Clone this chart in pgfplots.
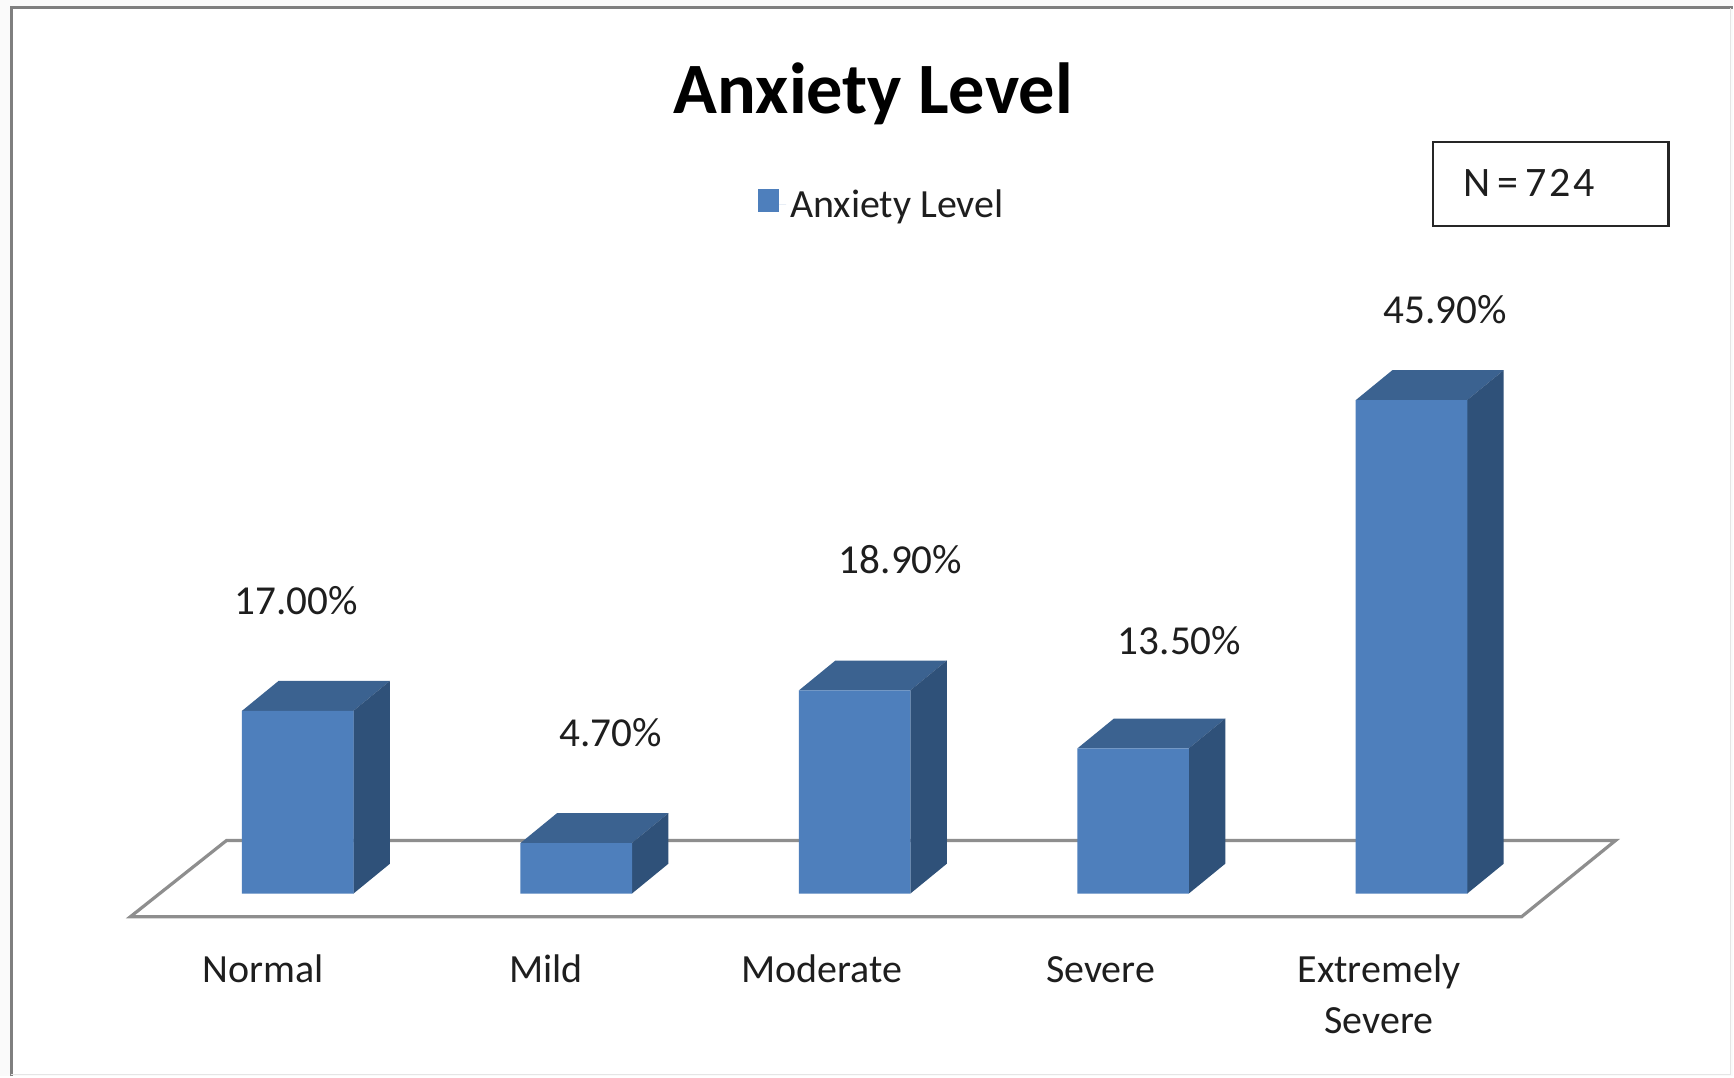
\documentclass[border=0pt]{standalone}
\usepackage{fontspec}
\setmainfont{Carlito}
\usepackage{pgfplots}
\pgfplotsset{compat=1.18}
\definecolor{barfront}{HTML}{4E7FBC}
\definecolor{bartop}{HTML}{3B6290}
\definecolor{barside}{HTML}{2F5179}
\definecolor{floorline}{HTML}{8E8E8E}
\definecolor{frameline}{HTML}{7F7F7F}
\definecolor{pagetone}{HTML}{FAFAFA}
\definecolor{labeltext}{HTML}{1E1E1E}

% Each category sits at 0,1,2,...; y is the percentage.
\pgfplotstableread{
x v
0 17.0
1 4.7
2 18.9
3 13.5
4 45.9
}\anxiety

\newcommand{\valuelabel}[3]{\node[anchor=base,font=\fontsize{20.6}{24}\selectfont,text=labeltext,inner sep=0pt] at (axis cs:#1,#2) {#3};}

\begin{document}
\begin{tikzpicture}
\begin{axis}[
  scale only axis,
  width=867pt, height=458.4pt,
  xmin=-1.0694, xmax=5.1528,
  ymin=-2.088, ymax=83.11,
  clip=false,
  axis on top,
  axis line style={draw=none},
  ytick=\empty,
  xtick={-0.125,0.891,1.883,2.883,3.883},
  xticklabels={\strut Normal,\strut Mild,\strut Moderate,\strut Severe,{\strut Extremely\\\strut Severe}},
  tick style={draw=none},
  xticklabel style={align=center,yshift=-12.1pt,text=labeltext,
    font=\fontsize{20}{25.4}\selectfont},
  legend style={draw=none,fill=none,at={(axis cs:2.102,64.07)},anchor=center,
    font=\fontsize{20}{24}\selectfont\color{labeltext},inner sep=0pt},
  legend image code/.code={\path (0pt,0pt) -- (13.8pt,0pt);\fill[barfront] (0pt,-3.5pt) rectangle (10.5pt,8pt);},
]
  % Sheet and window frame
  \fill[pagetone] (axis cs:-1.0694,-17.0) rectangle (axis cs:5.1528,83.11);
  \fill[white] (axis cs:-1.029,-16.85) rectangle (axis cs:5.145,82.37);
  \draw[frameline,line width=1.5pt] (axis cs:-1.029,-17.0) -- (axis cs:-1.029,82.37) -- (axis cs:5.1528,82.37);
  \draw[gray!20,line width=0.6pt] (axis cs:-1.029,-16.85) -- (axis cs:5.145,-16.85) -- (axis cs:5.145,82.37);

  % Floor of the 3D chart
  \addplot[forget plot,draw=floorline,line width=1.6pt,fill=white] coordinates
    {(-0.6012,-2.158) (4.3952,-2.158) (4.7325,4.933) (-0.2560,4.933)} -- cycle;

  % Top faces
  \addplot[forget plot,draw=none,fill=bartop] coordinates {(-0.2,17) (0.2,17) (0.331,19.775) (-0.069,19.775)} -- cycle;
  \addplot[forget plot,draw=none,fill=bartop] coordinates {(0.8,4.7) (1.2,4.7) (1.331,7.475) (0.931,7.475)} -- cycle;
  \addplot[forget plot,draw=none,fill=bartop] coordinates {(1.8,18.9) (2.2,18.9) (2.331,21.675) (1.931,21.675)} -- cycle;
  \addplot[forget plot,draw=none,fill=bartop] coordinates {(2.8,13.5) (3.2,13.5) (3.331,16.275) (2.931,16.275)} -- cycle;
  \addplot[forget plot,draw=none,fill=bartop] coordinates {(3.8,45.9) (4.2,45.9) (4.331,48.675) (3.931,48.675)} -- cycle;

  % Side faces
  \addplot[forget plot,draw=none,fill=barside] coordinates {(0.2,0) (0.331,2.775) (0.331,19.775) (0.2,17)} -- cycle;
  \addplot[forget plot,draw=none,fill=barside] coordinates {(1.2,0) (1.331,2.775) (1.331,7.475) (1.2,4.7)} -- cycle;
  \addplot[forget plot,draw=none,fill=barside] coordinates {(2.2,0) (2.331,2.775) (2.331,21.675) (2.2,18.9)} -- cycle;
  \addplot[forget plot,draw=none,fill=barside] coordinates {(3.2,0) (3.331,2.775) (3.331,16.275) (3.2,13.5)} -- cycle;
  \addplot[forget plot,draw=none,fill=barside] coordinates {(4.2,0) (4.331,2.775) (4.331,48.675) (4.2,45.9)} -- cycle;

  % Front faces
  \addplot[ybar,bar width=55.85pt,draw=none,fill=barfront] table[x=x,y=v] {\anxiety};
  \addlegendentry{Anxiety Level}

  % Value labels
  \valuelabel{-0.005}{26.0}{17.00\%}
  \valuelabel{1.123}{13.67}{4.70\%}
  \valuelabel{2.165}{29.77}{18.90\%}
  \valuelabel{3.167}{22.26}{13.50\%}
  \valuelabel{4.121}{53.0}{45.90\%}

  % Title
  \node[anchor=base,font=\fontsize{36.2}{40}\selectfont\bfseries,inner sep=0pt] at (axis cs:2.067,72.53) {Anxiety Level};

  % Sample size box
  \draw[black!85,line width=1.2pt] (axis cs:4.077,69.9) rectangle (axis cs:4.923,62.1);
  \node[anchor=base west,font=\fontsize{21}{24}\selectfont\addfontfeature{LetterSpace=6.5},text=labeltext,inner sep=0pt] at (axis cs:4.185,64.8) {N\,=\,724};
\end{axis}
\end{tikzpicture}
\end{document}
